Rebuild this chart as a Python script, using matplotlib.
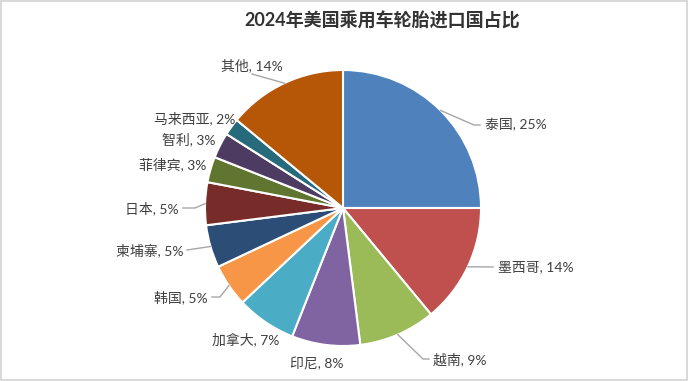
import numpy as np
import matplotlib
matplotlib.use("Agg")
import matplotlib.pyplot as plt
from matplotlib.patches import Rectangle

# data
countries = ["泰国", "墨西哥", "越南", "印尼", "加拿大", "韩国",
             "柬埔寨", "日本", "菲律宾", "智利", "马来西亚", "其他"]
shares = [25, 14, 9, 8, 7, 5, 5, 5, 3, 3, 2, 14]
colors = ["#4F81BD", "#C0504D", "#9BBB59", "#8064A2", "#4BACC6", "#F79646",
          "#2C4D75", "#772C2A", "#5F7530", "#4D3B62", "#276A7C", "#B65708"]
title = "2024年美国乘用车轮胎进口国占比"

# label layout in pixels: text x, text y, alignment, leader points after the wedge edge
label_layout = [
    (485, 125, "left", [(474, 125), (480, 125)]),
    (498, 267, "left", [(493, 267)]),
    (433, 359, "left", [(423, 359), (429, 359)]),
    (317, 363, "center", None),
    (279, 339, "right", None),
    (208, 297, "right", [(220, 297), (212, 297)]),
    (183, 250, "right", [(187, 250)]),
    (179, 208, "right", [(195, 208), (183, 208)]),
    (206, 164, "right", None),
    (216, 139, "right", None),
    (235, 118, "right", None),
    (252, 65, "center", [(252, 74)]),
]

W, H = 688, 381
CX, CY, R = 343, 208, 138
fonts = ["Lato", "Noto Sans CJK SC", "DejaVu Sans"]


def px(x, y):
    return (x - CX) / R, (CY - y) / R


fig = plt.figure(figsize=(W / 100, H / 100), dpi=100)
ax = fig.add_axes([0, 0, 1, 1])

wedges, _ = ax.pie(shares, colors=colors, startangle=90, counterclock=False,
                   radius=1, center=(0, 0), frame=True,
                   wedgeprops=dict(edgecolor="white", linewidth=1.5))
ax.set_xlim(-CX / R, (W - CX) / R)
ax.set_ylim((CY - H) / R, CY / R)
ax.axis("off")

for w, name, val, (tx, ty, ha, path) in zip(wedges, countries, shares, label_layout):
    x, y = px(tx, ty)
    ax.text(x, y, f"{name}, {val}%", ha=ha, va="center", fontsize=10,
            color="#404040", family=fonts)
    if path:
        mid = np.deg2rad((w.theta1 + w.theta2) / 2)
        xs = [np.cos(mid)] + [px(a, b)[0] for a, b in path]
        ys = [np.sin(mid)] + [px(a, b)[1] for a, b in path]
        ax.plot(xs, ys, color="#A6A6A6", lw=1)

fig.text(382 / W, 1 - 20 / H, title, ha="center", va="center", fontsize=13,
         fontweight="bold", color="#333333", family=fonts)

fig.patches.append(Rectangle((0.001, 0.002), 0.997, 0.995, transform=fig.transFigure,
                             fill=False, edgecolor="#D9D9D9", lw=1.5))

fig.savefig("out.png", dpi=100, facecolor="white")
